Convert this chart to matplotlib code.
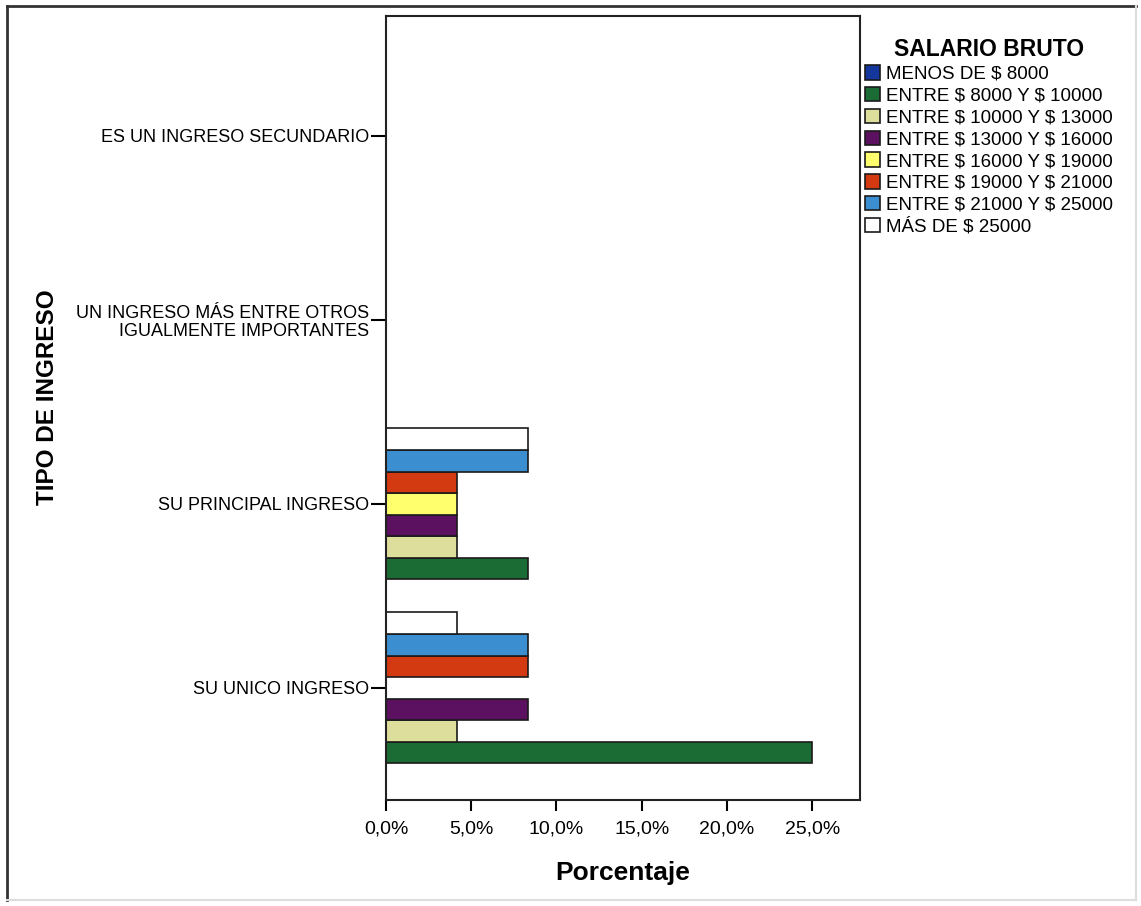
import matplotlib.pyplot as plt
import numpy as np
from matplotlib.patches import Patch
from matplotlib.lines import Line2D

plt.rcParams['font.family'] = ['Liberation Sans', 'DejaVu Sans']
plt.rcParams['text.parse_math'] = False  # labels contain "$"

# categories bottom to top
tipos = ["SU UNICO INGRESO", "SU PRINCIPAL INGRESO",
         "UN INGRESO MÁS ENTRE OTROS\nIGUALMENTE IMPORTANTES",
         "ES UN INGRESO SECUNDARIO"]
salarios = ["MENOS DE $ 8000", "ENTRE $ 8000 Y $ 10000", "ENTRE $ 10000 Y $ 13000",
            "ENTRE $ 13000 Y $ 16000", "ENTRE $ 16000 Y $ 19000", "ENTRE $ 19000 Y $ 21000",
            "ENTRE $ 21000 Y $ 25000", "MÁS DE $ 25000"]
colores = ["#14379e", "#1b6b35", "#dede9c", "#5b1060", "#ffff6e", "#d33a12", "#3b8ed0", "#ffffff"]

# percentage per salary range, one list per category (same order as tipos)
menos_8000 = [0, 0, 0, 0]
s8000_10000 = [25.0, 8.33, 0, 0]
s10000_13000 = [4.17, 4.17, 0, 0]
s13000_16000 = [8.33, 4.17, 0, 0]
s16000_19000 = [0, 4.17, 0, 0]
s19000_21000 = [8.33, 4.17, 0, 0]
s21000_25000 = [8.33, 8.33, 0, 0]
mas_25000 = [4.17, 8.33, 0, 0]
valores = [menos_8000, s8000_10000, s10000_13000, s13000_16000,
           s16000_19000, s19000_21000, s21000_25000, mas_25000]

fig = plt.figure(figsize=(11.41, 9.06), dpi=100)
ax = fig.add_axes([0.3383, 0.117, 0.4154, 0.8653])

# series with no data at all get no slot in the cluster
visibles = [i for i in range(len(salarios)) if sum(valores[i]) > 0]
n = len(visibles)
h = 0.1172
y = np.arange(len(tipos))
for k, i in enumerate(visibles):
    off = (k - (n - 1) / 2) * h
    ax.barh(y + off, valores[i], height=h, color=colores[i],
            edgecolor="#1a1a1a", linewidth=1.2)

ax.set_xlim(0, 27.8)
ax.set_ylim(-0.609, 3.652)
ax.set_xticks([0, 5, 10, 15, 20, 25])
ax.set_xticklabels(["0,0%", "5,0%", "10,0%", "15,0%", "20,0%", "25,0%"], fontsize=14)
ax.set_yticks(y)
ax.set_yticklabels(tipos, fontsize=13, multialignment="right", linespacing=1.05)
ax.tick_params(axis="x", length=8, width=1.5, pad=7)
ax.tick_params(axis="y", length=11, width=1.5, pad=1)
for s in ax.spines.values():
    s.set_linewidth(1.5)
    s.set_color("#222222")

ax.set_xlabel("Porcentaje", fontsize=19, fontweight="bold", labelpad=17)
fig.text(0.0415, 0.5618, "TIPO DE INGRESO", rotation=90, fontsize=17.5,
         fontweight="bold", ha="center", va="center")

handles = [Patch(facecolor=colores[i], edgecolor="#1a1a1a", linewidth=1.2)
           for i in range(len(salarios))]
fig.legend(handles, salarios, loc="upper left", bbox_to_anchor=(0.758, 0.958),
           title="SALARIO BRUTO", title_fontproperties={"weight": "bold", "size": 16.5},
           fontsize=13.5, frameon=False, handlelength=0.8, handleheight=0.8,
           handletextpad=0.3, labelspacing=0.22, borderpad=0, borderaxespad=0)

# outer frame of the picture
fig.add_artist(Line2D([0.0061, 0.0061], [0.0066, 0.9934], color="#333333", lw=2))
fig.add_artist(Line2D([0.0061, 0.9956], [0.9934, 0.9934], color="#333333", lw=2))
fig.add_artist(Line2D([0.9956, 0.9956], [0.0066, 0.9934], color="#dddddd", lw=1.5))
fig.add_artist(Line2D([0.0061, 0.9956], [0.0066, 0.0066], color="#dddddd", lw=1.5))

fig.savefig("out.png", dpi=100)
